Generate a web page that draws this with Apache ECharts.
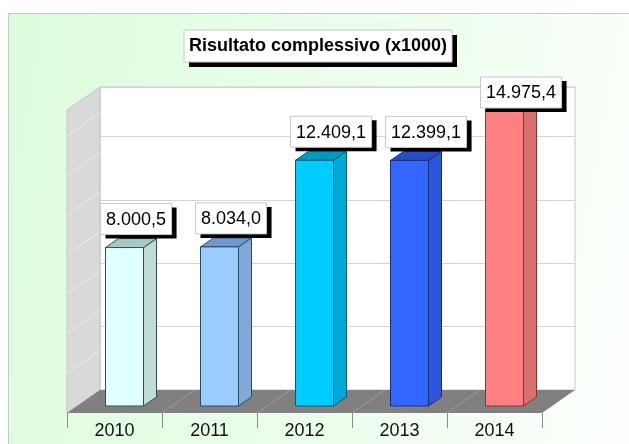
<!DOCTYPE html>
<html>
<head>
<meta charset="utf-8">
<script src="https://cdn.jsdelivr.net/npm/echarts@6/dist/echarts.min.js"></script>
<style>
  html, body { margin: 0; padding: 0; background: #fff; }
  #panel {
    position: absolute; left: 8px; top: 13px; width: 621px; height: 431px;
    border-left: 1px solid #c8c8c8; border-top: 1px solid #c8c8c8;
    background: linear-gradient(100deg, #dcfcdc 0%, #ecfeec 55%, #fdfffd 100%);
  }
  #chart { position: absolute; left: 0; top: 0; width: 629px; height: 444px; }
</style>
</head>
<body>
<div id="panel"></div>
<div id="chart"></div>
<script>
// dati
const years = ['2010', '2011', '2012', '2013', '2014'];
const values = [8000.5, 8034.0, 12409.1, 12399.1, 14975.4];

// colori delle barre (fronte, lato, sopra, bordo)
const frontColors = ['#e0ffff', '#99ccff', '#00ccff', '#3366ff', '#ff8080'];
const sideColors = ['#c0dcd8', '#80a8d8', '#00a8d6', '#2c56d8', '#d87070'];
const topColors = ['#a8c8c4', '#7099c8', '#0099c2', '#284ec6', '#c86464'];
const edgeColors = ['#3a4a4a', '#2a4a70', '#005a78', '#1a2e80', '#7a3a3a'];

const FONT = 'Arial, "Liberation Sans", sans-serif';
const DX = 33, DY = 23;          // profondita pavimento
const BAR_W = 38, BDX = 13, BDY = 9;

const ctx = document.createElement('canvas').getContext('2d');
ctx.font = '18px ' + FONT;

function fmt(v) {
  const parts = v.toFixed(1).split('.');
  return parts[0].replace(/\B(?=(\d{3})+(?!\d))/g, '.') + ',' + parts[1];
}

// pareti e pavimento
function renderFloor(params, api) {
  const bw = api.size([1, 0])[0];
  const c0 = api.coord([0, 0]);
  const xl = c0[0] - bw / 2;
  const xr = xl + bw * years.length;
  const yb = c0[1];
  const yt = api.coord([0, 15300])[1];
  const children = [];
  // parete sinistra
  children.push({
    type: 'polygon',
    shape: { points: [[xl - DX, yb + DY], [xl, yb], [xl, yt], [xl - DX, yt + DY]] },
    style: { fill: '#d9d9d9', stroke: '#c4c4c4', lineWidth: 1 }
  });
  for (let v = 2000; v < 15300; v += 2000) {
    const y = api.coord([0, v])[1];
    children.push({
      type: 'line',
      shape: { x1: xl - DX, y1: y + DY, x2: xl, y2: y },
      style: { stroke: '#ededed', lineWidth: 1 }
    });
  }
  // pavimento
  children.push({
    type: 'polygon',
    shape: { points: [[xl, yb], [xr, yb], [xr - DX, yb + DY], [xl - DX, yb + DY]] },
    style: { fill: '#808080' }
  });
  for (let k = 1; k < years.length; k++) {
    const x = xl + bw * k;
    children.push({
      type: 'line',
      shape: { x1: x, y1: yb, x2: x - DX, y2: yb + DY },
      style: { stroke: '#9c9c9c', lineWidth: 1 }
    });
  }
  for (let k = 0; k <= years.length; k++) {
    const x = Math.round(xl - DX + bw * k) + 0.5;
    children.push({
      type: 'line',
      shape: { x1: x, y1: yb + DY, x2: x, y2: yb + DY + 15 },
      style: { stroke: '#8a8a8a', lineWidth: 1 }
    });
  }
  years.forEach(function (y, k) {
    children.push({
      type: 'text',
      x: xl - DX + bw * (k + 0.5),
      y: yb + DY + 18,
      style: { text: y, fill: '#111', font: '18px ' + FONT, textAlign: 'center', textVerticalAlign: 'middle' }
    });
  });
  return { type: 'group', children: children };
}

// barre 3D con etichetta
function renderBar(params, api) {
  const i = params.dataIndex;
  const v = api.value(1);
  const top = api.coord([i, v]);
  const base = api.coord([i, 0]);
  const x0 = top[0] - 23 - BAR_W / 2;
  const x1 = x0 + BAR_W;
  const yt = top[1] + 16;
  const yb = base[1] + 16;
  const edge = edgeColors[i];
  const txt = fmt(v);
  const tw = ctx.measureText(txt).width;
  const bw = tw + 11, bh = 31;
  const bx = x0 - 5;
  const by = Math.max(77, yt - BDY - 4 - bh);
  return {
    type: 'group',
    children: [
      {
        type: 'polygon',
        shape: { points: [[x1, yt], [x1 + BDX, yt - BDY], [x1 + BDX, yb - BDY], [x1, yb]] },
        style: { fill: sideColors[i], stroke: edge, lineWidth: 1 }
      },
      {
        type: 'polygon',
        shape: { points: [[x0, yt], [x1, yt], [x1 + BDX, yt - BDY], [x0 + BDX, yt - BDY]] },
        style: { fill: topColors[i], stroke: edge, lineWidth: 1 }
      },
      {
        type: 'rect',
        shape: { x: x0, y: yt, width: BAR_W, height: yb - yt },
        style: { fill: frontColors[i], stroke: edge, lineWidth: 1 }
      },
      {
        type: 'rect',
        shape: { x: bx + 5, y: by + 4, width: bw, height: bh },
        style: { fill: '#000' }
      },
      {
        type: 'rect',
        shape: { x: bx, y: by, width: bw, height: bh },
        style: { fill: '#fff', stroke: '#c8c8c8', lineWidth: 1 }
      },
      {
        type: 'text',
        x: bx + bw / 2,
        y: by + bh / 2 + 1,
        style: { text: txt, fill: '#000', font: '18px ' + FONT, textAlign: 'center', textVerticalAlign: 'middle' }
      }
    ]
  };
}

const chart = echarts.init(document.getElementById('chart'));

const option = {
  backgroundColor: 'transparent',
  animation: false,
  graphic: [
    { type: 'rect', shape: { x: 189, y: 35, width: 268, height: 32 }, style: { fill: '#000' }, z: 10 },
    { type: 'rect', shape: { x: 184, y: 30, width: 268, height: 32 }, style: { fill: '#fff', stroke: '#c8c8c8' }, z: 11 },
    {
      type: 'text', x: 318, y: 46, z: 12,
      style: { text: 'Risultato complessivo (x1000)', fill: '#000', font: 'bold 18px ' + FONT, textAlign: 'center', textVerticalAlign: 'middle' }
    }
  ],
  grid: {
    left: 100, right: 54, top: 87, bottom: 54,
    show: true, backgroundColor: '#fff', borderColor: '#c8c8c8', borderWidth: 1
  },
  xAxis: {
    type: 'category',
    data: years,
    show: false
  },
  yAxis: {
    type: 'value',
    min: 0,
    max: 15300,
    interval: 3200,
    axisLine: { show: false },
    axisTick: { show: false },
    axisLabel: { show: false },
    splitLine: { lineStyle: { color: '#d4d4d4', width: 1 } }
  },
  series: [
    {
      type: 'custom',
      data: [[0, 0]],
      renderItem: renderFloor,
      silent: true,
      z: 1
    },
    {
      type: 'custom',
      data: values.map(function (v, i) { return [i, v]; }),
      renderItem: renderBar,
      z: 2
    }
  ]
};

chart.setOption(option);
</script>
</body>
</html>
